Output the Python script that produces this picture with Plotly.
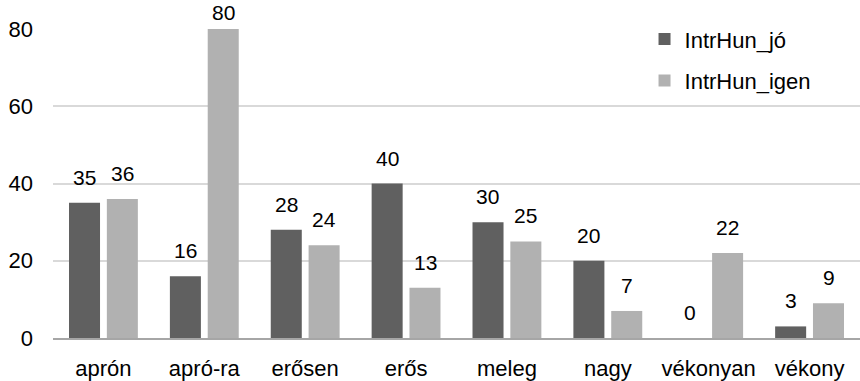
import plotly.graph_objects as go

categories = ["aprón", "apró-ra", "erősen", "erős", "meleg", "nagy", "vékonyan", "vékony"]
series_names = ["IntrHun_jó", "IntrHun_igen"]
jo_values = [35, 16, 28, 40, 30, 20, 0, 3]
igen_values = [36, 80, 24, 13, 25, 7, 22, 9]
y_ticks = [0, 20, 40, 60, 80]

colors = ["#606060", "#b1b1b1"]
font_family = "Liberation Sans, Arial, sans-serif"

W, H = 860, 381
M_L, M_R, M_T, M_B = 53, 0, 29, 43
Y_MAX = 80
plot_h = H - M_T - M_B
px_per_unit = plot_h / Y_MAX

fig = go.Figure()
for name, vals, col in zip(series_names, [jo_values, igen_values], colors):
    fig.add_trace(go.Bar(
        x=categories, y=vals, name=name, legendgroup=name,
        marker=dict(color=col, line=dict(width=0)),
    ))

# value labels above each bar, kept inside the figure for the tallest bars
label_gap = 13
label_box_h = 25
annotations = []
for idx, vals in enumerate([jo_values, igen_values]):
    for i, v in enumerate(vals):
        room = M_T + (Y_MAX - v) * px_per_unit - label_box_h
        annotations.append(dict(
            x=i, y=v, xref="x", yref="y",
            text=str(v), showarrow=False, borderpad=0,
            xanchor="center", yanchor="bottom",
            xshift=(-19 if idx == 0 else 19), yshift=min(label_gap, room),
            font=dict(family=font_family, size=21, color="#000000"),
        ))

fig.update_layout(
    width=W, height=H,
    margin=dict(l=M_L, r=M_R, t=M_T, b=M_B),
    paper_bgcolor="white", plot_bgcolor="white",
    barmode="group", bargap=0.25, bargroupgap=0.18,
    font=dict(family=font_family, size=22, color="#000000"),
    showlegend=True,
    legend=dict(
        x=0.733, y=1.035, xanchor="left", yanchor="top",
        bgcolor="rgba(0,0,0,0)", font=dict(size=22),
        itemwidth=30, tracegroupgap=10,
    ),
    annotations=annotations,
    shapes=[dict(
        type="rect", xref="paper", yref="paper",
        x0=0.675, x1=1.0, y0=0.80, y1=1.05,
        fillcolor="white", line=dict(width=0), layer="between",
    )],
)
fig.update_xaxes(
    showgrid=False, showline=True, linecolor="#a6a6a6", linewidth=2,
    ticks="", tickfont=dict(size=22), ticklabelstandoff=10,
)
fig.update_yaxes(
    range=[0, Y_MAX], tickvals=y_ticks, showgrid=True, gridcolor="#d9d9d9",
    gridwidth=2, zeroline=False, showline=False, ticks="",
    tickfont=dict(size=22), ticklabelstandoff=19,
)
fig.write_html("out.html")
